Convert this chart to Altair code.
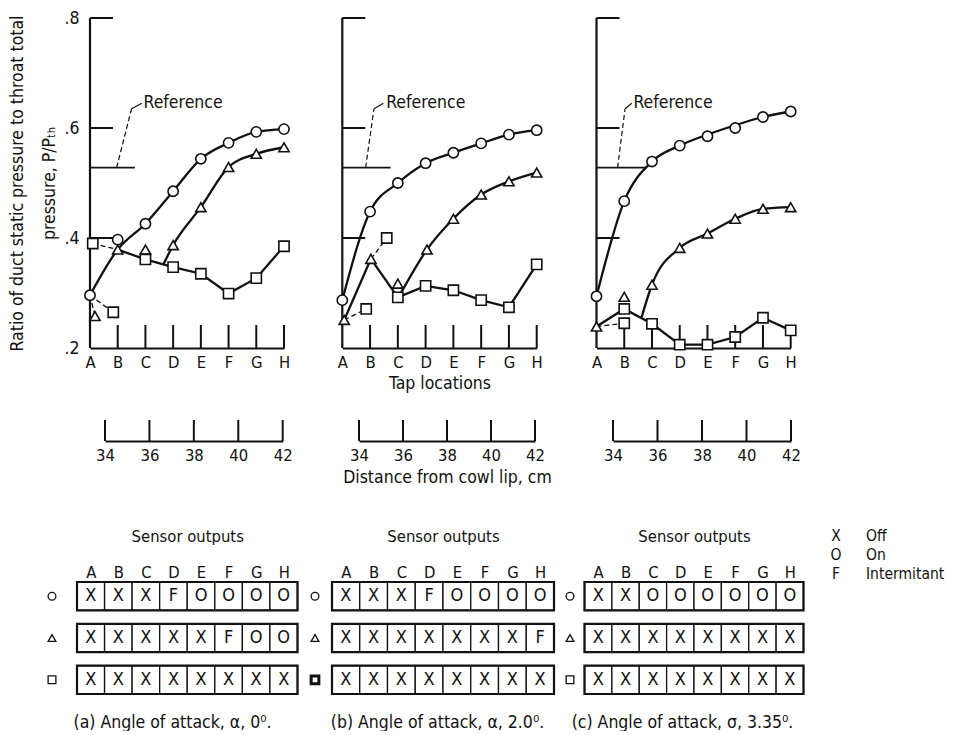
import json
import altair as alt
import pandas as pd

FONT = "DejaVu Sans Condensed, Liberation Sans Narrow, DejaVu Sans, sans-serif"
INK = "#111111"

# ---------------- data ----------------
TAPS = ["A", "B", "C", "D", "E", "F", "G", "H"]
TAP_INDEX = [0, 1, 2, 3, 4, 5, 6, 7]
Y_TICK_VALUES = [0.2, 0.4, 0.6, 0.8]
INNER_Y_TICKS = [0.4, 0.6, 0.8]
REFERENCE_RATIO = 0.528
DISTANCE_CM = [34, 36, 38, 40, 42]

# panel (a)  angle of attack 0 deg
A_CIRCLE_X = [0, 1, 2, 3, 4, 5, 6, 7]
A_CIRCLE_Y = [0.296, 0.397, 0.426, 0.485, 0.544, 0.573, 0.593, 0.598]
A_TRIANGLE_X = [0.18, 1, 2, 3, 4, 5, 6, 7]
A_TRIANGLE_Y = [0.258, 0.379, 0.379, 0.387, 0.456, 0.529, 0.553, 0.565]
A_SQUARE_X = [0.1, 0.84, 2, 3, 4, 5, 6, 7]
A_SQUARE_Y = [0.39, 0.265, 0.361, 0.347, 0.335, 0.299, 0.327, 0.385]
A_CURVE_CIRCLE_X = [0, 1, 2, 3, 4, 5, 6, 7]
A_CURVE_CIRCLE_Y = [0.296, 0.379, 0.426, 0.485, 0.544, 0.573, 0.593, 0.598]
A_CURVE_TRIANGLE_X = [2.65, 3, 4, 5, 6, 7]
A_CURVE_TRIANGLE_Y = [0.352, 0.387, 0.456, 0.529, 0.553, 0.565]
A_CURVE_SQUARE_X = [1, 2, 3, 4, 5, 6, 7]
A_CURVE_SQUARE_Y = [0.379, 0.361, 0.347, 0.335, 0.299, 0.327, 0.385]
A_DASHED_X = [[0.1, 1.0], [0.0, 0.84], [0.0, 0.18]]
A_DASHED_Y = [[0.39, 0.379], [0.296, 0.265], [0.296, 0.258]]

# panel (b)  angle of attack 2.0 deg
B_CIRCLE_X = [0, 1, 2, 3, 4, 5, 6, 7]
B_CIRCLE_Y = [0.287, 0.448, 0.5, 0.536, 0.555, 0.572, 0.588, 0.596]
B_TRIANGLE_X = [0.07, 1.03, 2, 3.05, 4, 5, 6, 7]
B_TRIANGLE_Y = [0.251, 0.362, 0.317, 0.379, 0.435, 0.479, 0.503, 0.519]
B_SQUARE_X = [0.86, 1.6, 2, 3, 4, 5, 6, 7]
B_SQUARE_Y = [0.271, 0.4, 0.292, 0.313, 0.305, 0.287, 0.274, 0.352]
B_CURVE_CIRCLE_X = [0, 1, 2, 3, 4, 5, 6, 7]
B_CURVE_CIRCLE_Y = [0.287, 0.448, 0.5, 0.536, 0.555, 0.572, 0.588, 0.596]
B_CURVE_TRIANGLE_X = [2.08, 3.05, 4, 5, 6, 7]
B_CURVE_TRIANGLE_Y = [0.297, 0.379, 0.435, 0.479, 0.503, 0.519]
B_CURVE_SQUARE_X = [0.07, 1.03, 2, 3, 4, 5, 6, 7]
B_CURVE_SQUARE_Y = [0.251, 0.362, 0.292, 0.313, 0.305, 0.287, 0.274, 0.352]
B_DASHED_X = [[0.07, 0.86], [1.03, 1.6]]
B_DASHED_Y = [[0.251, 0.271], [0.362, 0.4]]

# panel (c)  angle of attack 3.35 deg
C_CIRCLE_X = [0, 1, 2, 3, 4, 5, 6, 7]
C_CIRCLE_Y = [0.294, 0.467, 0.539, 0.568, 0.585, 0.6, 0.62, 0.63]
C_TRIANGLE_X = [0, 1, 2, 3, 4, 5, 6, 7]
C_TRIANGLE_Y = [0.239, 0.293, 0.315, 0.382, 0.408, 0.435, 0.453, 0.456]
C_SQUARE_X = [1, 1, 2, 3, 4, 5, 6, 7]
C_SQUARE_Y = [0.271, 0.245, 0.244, 0.206, 0.206, 0.22, 0.255, 0.232]
C_CURVE_CIRCLE_X = [0, 1, 2, 3, 4, 5, 6, 7]
C_CURVE_CIRCLE_Y = [0.294, 0.467, 0.539, 0.568, 0.588, 0.605, 0.62, 0.63]
C_CURVE_TRIANGLE_X = [1.62, 2, 3, 4, 5, 6, 7]
C_CURVE_TRIANGLE_Y = [0.255, 0.315, 0.382, 0.408, 0.435, 0.453, 0.456]
C_CURVE_SQUARE_X = [0, 1, 2, 3, 4, 5, 6, 7]
C_CURVE_SQUARE_Y = [0.239, 0.271, 0.244, 0.206, 0.206, 0.22, 0.255, 0.232]
C_DASHED_X = [[0.0, 1.0]]
C_DASHED_Y = [[0.239, 0.245]]

# "Reference" annotation (tap units / pressure ratio)
REF_LINE_END = {"a": 1.62, "b": 1.74, "c": 1.81}
LEADER_X = {"a": [0.96, 1.5, 1.87], "b": [0.84, 1.14, 1.48], "c": [0.76, 1.03, 1.27]}
LEADER_Y = [REFERENCE_RATIO, 0.635, 0.645]
REF_TEXT_X = {"a": 1.93, "b": 1.58, "c": 1.33}
REF_TEXT_Y = 0.645

# sensor output tables
ROWS = ["circle", "triangle", "square"]
TABLE_A = [["X", "X", "X", "F", "O", "O", "O", "O"],
           ["X", "X", "X", "X", "X", "F", "O", "O"],
           ["X", "X", "X", "X", "X", "X", "X", "X"]]
TABLE_B = [["X", "X", "X", "F", "O", "O", "O", "O"],
           ["X", "X", "X", "X", "X", "X", "X", "F"],
           ["X", "X", "X", "X", "X", "X", "X", "X"]]
TABLE_C = [["X", "X", "O", "O", "O", "O", "O", "O"],
           ["X", "X", "X", "X", "X", "X", "X", "X"],
           ["X", "X", "X", "X", "X", "X", "X", "X"]]
CAPTIONS = {"a": "(a) Angle of attack, \u03b1, 0\u2070.",
            "b": "(b) Angle of attack, \u03b1, 2.0\u2070.",
            "c": "(c) Angle of attack, \u03c3, 3.35\u2070."}
LEGEND_KEYS = ["X", "O", "F"]
LEGEND_LABELS = ["Off", "On", "Intermitant"]

# ---------------- layout (pixels, relative to the plot origin) ----------------
W, H = 710, 330
PANEL_RANGE = {"a": [0, 194], "b": [252.3, 446.7], "c": [506.5, 700.7]}
DIST_RANGE = {"a": [15, 192.7], "b": [269, 445], "c": [523, 701]}
DIST_OFFSET = 93
DIST_TICK = 21
TAP_TICK = 23
ROW_BOX = 0.68                    # box height as a fraction of the row pitch
TABLE_Y_RANGE = [564, 676]        # top of first box .. bottom of last box
TABLE_RANGE = {"a": [-13, 207.5], "b": [242, 464], "c": [494.5, 713.5]}
SYMBOL_X = {"a": -38, "b": 225, "c": 480}
SYMBOL_STROKE = {"a": [1.3, 1.3, 1.3], "b": [1.3, 1.3, 3.0], "c": [1.3, 1.3, 1.3]}
CAPTION_CENTER = {"a": 82, "b": 347, "c": 592}
HEAD_OFFSET = 216
SENSOR_TITLE_OFFSET = 180
CAPTION_OFFSET = 365
LEGEND_RANGE_X = [746, 776]
LEGEND_RANGE_Y = [518, 556]
TEXT_SIZE = 17.5

PANELS = {
    "a": dict(points=[("circle", A_CIRCLE_X, A_CIRCLE_Y), ("triangle", A_TRIANGLE_X, A_TRIANGLE_Y),
                      ("square", A_SQUARE_X, A_SQUARE_Y)],
              curves=[(A_CURVE_CIRCLE_X, A_CURVE_CIRCLE_Y, "monotone"),
                      (A_CURVE_TRIANGLE_X, A_CURVE_TRIANGLE_Y, "monotone"),
                      (A_CURVE_SQUARE_X, A_CURVE_SQUARE_Y, "linear")],
              dashed=(A_DASHED_X, A_DASHED_Y)),
    "b": dict(points=[("circle", B_CIRCLE_X, B_CIRCLE_Y), ("triangle", B_TRIANGLE_X, B_TRIANGLE_Y),
                      ("square", B_SQUARE_X, B_SQUARE_Y)],
              curves=[(B_CURVE_CIRCLE_X, B_CURVE_CIRCLE_Y, "monotone"),
                      (B_CURVE_TRIANGLE_X, B_CURVE_TRIANGLE_Y, "monotone"),
                      (B_CURVE_SQUARE_X, B_CURVE_SQUARE_Y, "linear")],
              dashed=(B_DASHED_X, B_DASHED_Y)),
    "c": dict(points=[("circle", C_CIRCLE_X, C_CIRCLE_Y), ("triangle", C_TRIANGLE_X, C_TRIANGLE_Y),
                      ("square", C_SQUARE_X, C_SQUARE_Y)],
              curves=[(C_CURVE_CIRCLE_X, C_CURVE_CIRCLE_Y, "monotone"),
                      (C_CURVE_TRIANGLE_X, C_CURVE_TRIANGLE_Y, "monotone"),
                      (C_CURVE_SQUARE_X, C_CURVE_SQUARE_Y, "linear")],
              dashed=(C_DASHED_X, C_DASHED_Y)),
}
TABLES = {"a": TABLE_A, "b": TABLE_B, "c": TABLE_C}

TAP_LABEL_EXPR = json.dumps(TAPS) + "[round(datum.value)]"
HEAD_LABEL_EXPR = json.dumps(TAPS) + "[floor(datum.value)]"
SHAPE_SCALE = alt.Scale(domain=ROWS, range=["circle", "triangle-up", "square"])


def px(p, field, axis=None):
    return alt.X(f"{field}:Q", scale=alt.Scale(domain=[0, 7], range=PANEL_RANGE[p], nice=False, zero=False),
                 axis=axis)


def py(field, axis=None):
    return alt.Y(f"{field}:Q", scale=alt.Scale(domain=[0.2, 0.8], range=[H, 0], nice=False, zero=False),
                 axis=axis)


def tap_axis(p):
    return alt.Axis(orient="bottom", values=TAP_INDEX, labelExpr=TAP_LABEL_EXPR, ticks=False,
                    labelPadding=6, labelFontSize=16.5, labelFlush=False, labelOverlap=False,
                    domain=True, domainWidth=2, domainColor=INK, grid=False,
                    title="Tap locations" if p == "b" else None, titlePadding=4,
                    titleFontSize=TEXT_SIZE, titleFontWeight="normal")


y_axis = alt.Axis(orient="left", values=Y_TICK_VALUES,
                  labelExpr="replace(format(datum.value, '.1f'), '0.', '.')",
                  ticks=False, domain=False, grid=False, labelPadding=11, labelFontSize=17.5,
                  title=["Ratio of duct static pressure to throat total", "pressure, P/P\u209c\u2095"],
                  titleFontSize=TEXT_SIZE, titleFontWeight="normal", titlePadding=5, titleLineHeight=32)

layers = []
for p in ["a", "b", "c"]:
    spec = PANELS[p]
    layers.append(
        alt.Chart(pd.DataFrame({"x": TAP_INDEX[1:], "y": [0.2] * 7}))
        .mark_rule(color=INK, strokeWidth=2, y2Offset=-TAP_TICK)
        .encode(x=px(p, "x", tap_axis(p)), y=py("y"), y2="y")
    )
    layers.append(
        alt.Chart(pd.DataFrame({"x": [0], "y": [0.2], "y2": [0.8]}))
        .mark_rule(color=INK, strokeWidth=2.2)
        .encode(x=px(p, "x"), y=py("y", y_axis if p == "a" else None), y2="y2")
    )
    layers.append(
        alt.Chart(pd.DataFrame({"x": [0] * 3, "y": INNER_Y_TICKS}))
        .mark_rule(color=INK, strokeWidth=2, x2Offset=TAP_TICK)
        .encode(x=px(p, "x"), x2="x", y=py("y"))
    )
    layers.append(
        alt.Chart(pd.DataFrame({"x": [0], "x2": [REF_LINE_END[p]], "y": [REFERENCE_RATIO]}))
        .mark_rule(color=INK, strokeWidth=1.6)
        .encode(x=px(p, "x"), x2="x2", y=py("y"))
    )
    lx = LEADER_X[p]
    layers.append(
        alt.Chart(pd.DataFrame({"x": lx[:2], "y": LEADER_Y[:2]}))
        .mark_line(color=INK, strokeWidth=1.2, strokeDash=[5, 3])
        .encode(x=px(p, "x"), y=py("y"))
    )
    layers.append(
        alt.Chart(pd.DataFrame({"x": lx[1:], "y": LEADER_Y[1:]}))
        .mark_line(color=INK, strokeWidth=1.2, interpolate="monotone")
        .encode(x=px(p, "x"), y=py("y"))
    )
    layers.append(
        alt.Chart(pd.DataFrame({"x": [REF_TEXT_X[p]], "y": [REF_TEXT_Y], "t": ["Reference"]}))
        .mark_text(align="left", baseline="middle", fontSize=TEXT_SIZE, font=FONT, color=INK)
        .encode(x=px(p, "x"), y=py("y"), text="t:N")
    )
    for cx, cy, interp in spec["curves"]:
        layers.append(
            alt.Chart(pd.DataFrame({"x": cx, "y": cy}))
            .mark_line(color=INK, strokeWidth=2.3, interpolate=interp)
            .encode(x=px(p, "x"), y=py("y"))
        )
    dx, dy = spec["dashed"]
    seg_rows = []
    for i, (xs, ys) in enumerate(zip(dx, dy)):
        for xv, yv in zip(xs, ys):
            seg_rows.append({"seg": i, "x": xv, "y": yv})
    layers.append(
        alt.Chart(pd.DataFrame(seg_rows))
        .mark_line(color=INK, strokeWidth=1.3, strokeDash=[5, 3])
        .encode(x=px(p, "x"), y=py("y"), detail="seg:N")
    )
    pt_rows = []
    for kind, xs, ys in spec["points"]:
        for xv, yv in zip(xs, ys):
            pt_rows.append({"kind": kind, "x": xv, "y": yv})
    layers.append(
        alt.Chart(pd.DataFrame(pt_rows))
        .mark_point(filled=True, fill="white", stroke=INK, strokeWidth=1.6, size=105, opacity=1)
        .encode(x=px(p, "x"), y=py("y"),
                shape=alt.Shape("kind:N", scale=SHAPE_SCALE, legend=None))
    )
    layers.append(
        alt.Chart(pd.DataFrame({"cm": DISTANCE_CM}))
        .mark_rule(color=INK, strokeWidth=2)
        .encode(
            x=alt.X("cm:Q", scale=alt.Scale(domain=[34, 42], range=DIST_RANGE[p], nice=False, zero=False),
                    axis=alt.Axis(orient="bottom", offset=DIST_OFFSET, values=DISTANCE_CM, format="d",
                                  ticks=False, labelPadding=6, labelFontSize=16.5, labelFlush=False,
                                  labelOverlap=False, domain=True, domainWidth=2, domainColor=INK,
                                  grid=False, title="Distance from cowl lip, cm" if p == "b" else None,
                                  titlePadding=5, titleFontSize=TEXT_SIZE, titleFontWeight="normal")),
            y=alt.value(H + DIST_OFFSET - DIST_TICK),
            y2=alt.value(H + DIST_OFFSET),
        )
    )

# ---------------- sensor output tables ----------------
ROW_SCALE = alt.Scale(domain=[0, len(ROWS) - 1 + ROW_BOX], range=TABLE_Y_RANGE, nice=False, zero=False)


def ry(field):
    return alt.Y(f"{field}:Q", scale=ROW_SCALE, axis=None)


for p in ["a", "b", "c"]:
    states = TABLES[p]
    cells = []
    for r, row_name in enumerate(ROWS):
        for c in range(8):
            cells.append({"row": row_name, "r0": r, "r1": r + ROW_BOX, "rm": r + ROW_BOX / 2,
                          "c0": c, "c1": c + 1, "cm": c + 0.5, "state": states[r][c]})
    cells = pd.DataFrame(cells)
    tscale = alt.Scale(domain=[0, 8], range=TABLE_RANGE[p], nice=False, zero=False)
    head_axis = alt.Axis(orient="bottom", offset=HEAD_OFFSET, values=[i + 0.5 for i in range(8)],
                         labelExpr=HEAD_LABEL_EXPR, ticks=False, domain=False, grid=False,
                         labelPadding=0, labelFontSize=16.5, labelFlush=False, labelOverlap=False,
                         title=None)
    layers.append(
        alt.Chart(cells).mark_rect(fill="white", stroke=INK, strokeWidth=1.3)
        .encode(x=alt.X("c0:Q", scale=tscale, axis=head_axis), x2="c1", y=ry("r0"), y2="r1")
    )
    outer = pd.DataFrame({"r0": [r for r in range(3)], "r1": [r + ROW_BOX for r in range(3)],
                          "c0": [0] * 3, "c1": [8] * 3})
    layers.append(
        alt.Chart(outer).mark_rect(fill=None, stroke=INK, strokeWidth=2.2)
        .encode(x=alt.X("c0:Q", scale=tscale, axis=None), x2="c1", y=ry("r0"), y2="r1")
    )
    sensor_axis = alt.Axis(orient="bottom", offset=SENSOR_TITLE_OFFSET, labels=False, ticks=False,
                           domain=False, grid=False, title="Sensor outputs", titlePadding=0,
                           titleFontSize=16.5, titleFontWeight="normal")
    layers.append(
        alt.Chart(cells).mark_text(fontSize=18, font=FONT, color=INK, baseline="middle")
        .encode(x=alt.X("cm:Q", scale=tscale, axis=sensor_axis), y=ry("rm"), text="state:N")
    )
    sym = pd.DataFrame({"row": ROWS, "rm": [r + ROW_BOX / 2 for r in range(3)], "pos": [-1] * 3,
                        "sw": SYMBOL_STROKE[p]})
    sscale = alt.Scale(domain=[-1, 8], range=[SYMBOL_X[p], TABLE_RANGE[p][1]], nice=False, zero=False)
    cap_axis = alt.Axis(orient="bottom", offset=CAPTION_OFFSET, labels=False, ticks=False, domain=False,
                        grid=False, title=CAPTIONS[p], titleFontSize=TEXT_SIZE, titleFontWeight="normal",
                        titlePadding=0, titleX=CAPTION_CENTER[p], titleAlign="center")
    layers.append(
        alt.Chart(sym).mark_point(filled=True, fill="white", stroke=INK, size=60, opacity=1)
        .encode(x=alt.X("pos:Q", scale=sscale, axis=cap_axis), y=ry("rm"),
                shape=alt.Shape("row:N", scale=SHAPE_SCALE, legend=None),
                strokeWidth=alt.StrokeWidth("sw:Q", scale=None, legend=None))
    )

leg = pd.DataFrame({"key": LEGEND_KEYS, "label": LEGEND_LABELS, "k": [0, 1, 2],
                    "kx": [0] * 3, "lx": [1] * 3})
lscale = alt.Scale(domain=[0, 1], range=LEGEND_RANGE_X, nice=False, zero=False)
lyscale = alt.Scale(domain=[0, 2], range=LEGEND_RANGE_Y, nice=False, zero=False)
layers.append(
    alt.Chart(leg).mark_text(fontSize=15.5, font=FONT, color=INK, align="center", baseline="middle")
    .encode(x=alt.X("kx:Q", scale=lscale, axis=None), y=alt.Y("k:Q", scale=lyscale, axis=None), text="key:N")
)
layers.append(
    alt.Chart(leg).mark_text(fontSize=15.5, font=FONT, color=INK, align="left", baseline="middle")
    .encode(x=alt.X("lx:Q", scale=lscale, axis=None), y=alt.Y("k:Q", scale=lyscale, axis=None), text="label:N")
)

chart = (
    alt.layer(*layers)
    .resolve_scale(x="independent", y="independent")
    .properties(width=W, height=H, background="white",
                padding={"top": 1, "left": 0, "right": 0, "bottom": 0})
    .configure(font=FONT)
    .configure_view(stroke=None)
    .configure_axis(labelFont=FONT, titleFont=FONT, labelColor=INK, titleColor=INK)
)

chart.save("out.html", embed_options={"renderer": "svg", "actions": False})
